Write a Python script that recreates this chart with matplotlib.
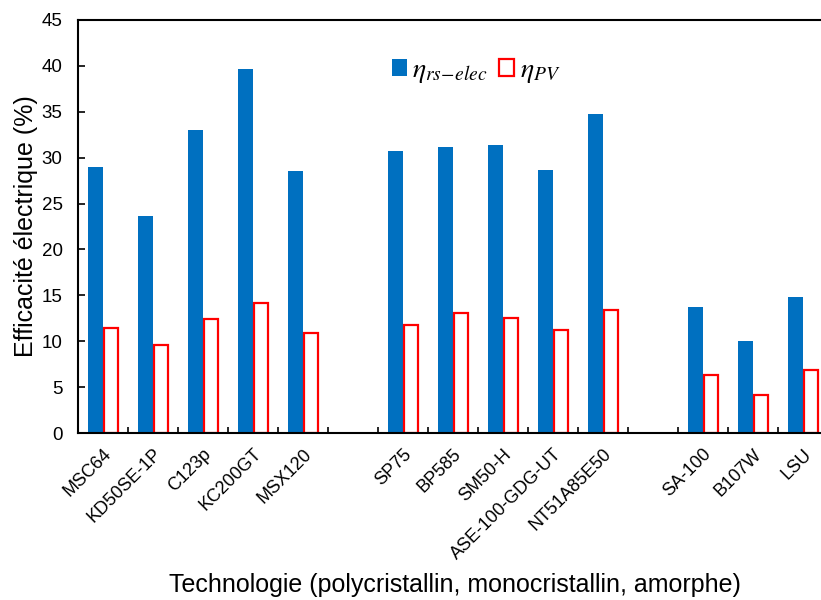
import matplotlib.pyplot as plt
import numpy as np

plt.rcParams['font.family'] = ['Liberation Sans', 'DejaVu Sans']
plt.rcParams['mathtext.fontset'] = 'stix'

# modules, with empty slots separating poly / mono / amorphous groups
modules = ['MSC64', 'KD50SE-1P', 'C123p', 'KC200GT', 'MSX120', '',
           'SP75', 'BP585', 'SM50-H', 'ASE-100-GDG-UT', 'NT51A85E50', '',
           'SA-100', 'B107W', 'LSU']
eta_rs_elec = [29.0, 23.6, 33.0, 39.6, 28.5, np.nan,
               30.7, 31.1, 31.4, 28.6, 34.8, np.nan,
               13.7, 10.0, 14.8]
eta_pv = [11.5, 9.6, 12.4, 14.2, 10.9, np.nan,
          11.8, 13.1, 12.5, 11.2, 13.4, np.nan,
          6.3, 4.2, 6.9]

fig = plt.figure(figsize=(8.21, 6.0), dpi=100)
ax = fig.add_axes([0.095, 0.278, 0.913, 0.689])

x = np.arange(len(modules))
w = 0.3
ax.bar(x - 0.15, eta_rs_elec, w, color='#0070C0', label=r'$\eta_{rs\!-\!elec}$')
ax.bar(x + 0.17, eta_pv, w - 0.02, color='white', edgecolor='#FF0000',
       linewidth=1.6, label=r'$\eta_{PV}$')

ax.set_xlim(-0.5, len(modules) - 0.5)
ax.set_ylim(0, 45)
ax.set_yticks(np.arange(0, 46, 5))
ax.tick_params(axis='y', direction='in', length=5, width=1.2, labelsize=13.5, pad=11)

# labels at category centers, tick marks at category boundaries
ax.set_xticks(x)
ax.set_xticklabels(modules, rotation=45, ha='right', rotation_mode='anchor', fontsize=13)
ax.tick_params(axis='x', which='major', length=0, pad=9)
ax.set_xticks(np.arange(0.5, len(modules) - 0.5, 1), minor=True)
ax.tick_params(axis='x', which='minor', direction='in', length=4, width=1.2)

for s in ax.spines.values():
    s.set_linewidth(1.5)

ax.set_ylabel('Efficacité électrique (%)', fontsize=18)
ax.yaxis.set_label_coords(-0.054, 0.5)
ax.set_xlabel('Technologie (polycristallin, monocristallin, amorphe)', fontsize=18)
ax.xaxis.set_label_coords(0.503, -0.338)

ax.legend(loc='upper left', bbox_to_anchor=(0.385, 0.97), ncol=2, frameon=False,
          fontsize=20, handlelength=0.55, handleheight=0.55, handletextpad=0.2,
          columnspacing=0.4)

plt.savefig('out.png', dpi=100)
